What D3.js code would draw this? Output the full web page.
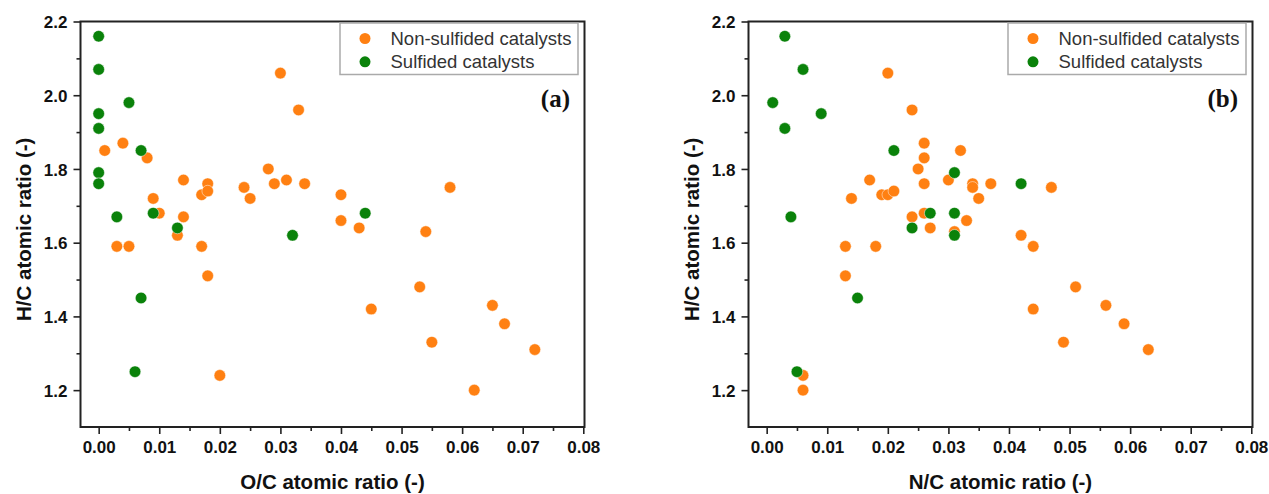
<!DOCTYPE html>
<html>
<head>
<meta charset="utf-8">
<script src="https://cdn.jsdelivr.net/npm/d3@7"></script>
<style>
  body { margin: 0; background: #fff; }
  svg text { font-family: "Liberation Sans", Arial, sans-serif; }
</style>
</head>
<body>
<svg id="fig" width="1269" height="494"></svg>
<script>
// (a) H/C vs O/C
var ocNonSulfided = [0.001, 0.004, 0.008, 0.009, 0.010, 0.014, 0.014, 0.017, 0.018, 0.018,
	0.024, 0.025, 0.028, 0.029, 0.031, 0.034, 0.030, 0.033, 0.040, 0.040,
	0.043, 0.013, 0.003, 0.005, 0.017, 0.018, 0.020, 0.058, 0.054, 0.053,
	0.045, 0.065, 0.067, 0.055, 0.072, 0.062];
var hcNonSulfidedA = [1.85, 1.87, 1.83, 1.72, 1.68, 1.77, 1.67, 1.73, 1.76, 1.74,
	1.75, 1.72, 1.80, 1.76, 1.77, 1.76, 2.06, 1.96, 1.73, 1.66,
	1.64, 1.62, 1.59, 1.59, 1.59, 1.51, 1.24, 1.75, 1.63, 1.48,
	1.42, 1.43, 1.38, 1.33, 1.31, 1.20];
var ocSulfided = [0, 0, 0, 0, 0, 0, 0.005, 0.007, 0.003, 0.009, 0.013, 0.032, 0.007, 0.006, 0.044];
var hcSulfidedA = [2.16, 2.07, 1.95, 1.91, 1.79, 1.76, 1.98, 1.85, 1.67, 1.68, 1.64, 1.62, 1.45, 1.25, 1.68];

// (b) H/C vs N/C
var ncNonSulfided = [0.020, 0.024, 0.026, 0.026, 0.032, 0.025, 0.017, 0.026, 0.030, 0.034,
	0.034, 0.037, 0.035, 0.014, 0.019, 0.020, 0.021, 0.024, 0.026, 0.027,
	0.033, 0.031, 0.013, 0.018, 0.013, 0.006, 0.006, 0.047, 0.042, 0.044,
	0.051, 0.044, 0.056, 0.059, 0.049, 0.063];
var hcNonSulfidedB = [2.06, 1.96, 1.87, 1.83, 1.85, 1.80, 1.77, 1.76, 1.77, 1.76,
	1.75, 1.76, 1.72, 1.72, 1.73, 1.73, 1.74, 1.67, 1.68, 1.64,
	1.66, 1.63, 1.59, 1.59, 1.51, 1.24, 1.20, 1.75, 1.62, 1.59,
	1.48, 1.42, 1.43, 1.38, 1.33, 1.31];
var ncSulfided = [0.003, 0.006, 0.001, 0.003, 0.009, 0.021, 0.031, 0.004, 0.027, 0.031, 0.024, 0.031, 0.015, 0.005, 0.042];
var hcSulfidedB = [2.16, 2.07, 1.98, 1.91, 1.95, 1.85, 1.79, 1.67, 1.68, 1.68, 1.64, 1.62, 1.45, 1.25, 1.76];

var xTicks = [0, 0.01, 0.02, 0.03, 0.04, 0.05, 0.06, 0.07, 0.08];
var xMinorTicks = [0.005, 0.015, 0.025, 0.035, 0.045, 0.055, 0.065, 0.075];
var yTicks = [1.2, 1.4, 1.6, 1.8, 2.0, 2.2];
var yMinorTicks = [1.3, 1.5, 1.7, 1.9, 2.1];
var legendLabels = ["Non-sulfided catalysts", "Sulfided catalysts"];

var ORANGE = "#ff8012";
var GREEN = "#0a820a";

var svg = d3.select("#fig");

function pairs(x, y) {
	return x.map(function(v, i) { return [v, y[i]]; });
}

function drawPanel(left, xLabel, tag, nonSulf, sulf) {
	/* Draws one framed scatter panel; left is the x of the frame's left edge. */
	var w = 504, top = 21.5, bottom = 427;
	var g = svg.append("g");
	var xScale = d3.scaleLinear().domain([-0.003, 0.0802]).range([left, left + w]);
	var yScale = d3.scaleLinear().domain([1.1, 2.2]).range([bottom, top]);

	// minor ticks first, then major ticks with labels
	g.append("g")
		.attr("transform", "translate(0," + bottom + ")")
		.call(d3.axisBottom(xScale).tickValues(xMinorTicks).tickSize(4).tickFormat(""));
	g.append("g")
		.attr("transform", "translate(" + left + ",0)")
		.call(d3.axisLeft(yScale).tickValues(yMinorTicks).tickSize(4).tickFormat(""));
	var xAxis = g.append("g")
		.attr("transform", "translate(0," + bottom + ")")
		.call(d3.axisBottom(xScale).tickValues(xTicks).tickSize(7).tickPadding(7).tickFormat(d3.format(".2f")));
	var yAxis = g.append("g")
		.attr("transform", "translate(" + left + ",0)")
		.call(d3.axisLeft(yScale).tickValues(yTicks).tickSize(7).tickPadding(6).tickFormat(d3.format(".1f")));
	g.selectAll(".domain").remove();
	g.selectAll(".tick line").attr("stroke", "#222").attr("stroke-width", 1.6);
	[xAxis, yAxis].forEach(function(a) {
		a.selectAll("text")
			.attr("fill", "#111")
			.style("font-size", "17px")
			.style("font-weight", "bold")
			.style("font-family", "'Liberation Sans', Arial, sans-serif");
	});
	yAxis.selectAll("text").attr("dy", "0.36em");

	// frame
	g.append("rect")
		.attr("x", left)
		.attr("y", top)
		.attr("width", w)
		.attr("height", bottom - top)
		.attr("fill", "none")
		.attr("stroke", "#222")
		.attr("stroke-width", 2);

	// axis titles
	g.append("text")
		.text(xLabel)
		.attr("x", left + w / 2)
		.attr("y", 489)
		.attr("text-anchor", "middle")
		.style("font-size", "20.5px")
		.style("font-weight", "bold")
		.attr("fill", "#111");
	g.append("text")
		.text("H/C atomic ratio (-)")
		.attr("transform", "translate(" + (left - 57) + "," + ((top + bottom) / 2 + 5) + ") rotate(-90)")
		.attr("text-anchor", "middle")
		.attr("dy", "0.35em")
		.style("font-size", "20.5px")
		.style("font-weight", "bold")
		.attr("fill", "#111");

	// points
	var series = [[nonSulf, ORANGE], [sulf, GREEN]];
	series.forEach(function(s) {
		g.append("g").selectAll("circle")
			.data(s[0])
			.enter()
				.append("circle")
				.attr("cx", function(d) { return xScale(d[0]); })
				.attr("cy", function(d) { return yScale(d[1]); })
				.attr("r", 5.8)
				.attr("fill", s[1])
				.attr("stroke", "#fff")
				.attr("stroke-opacity", 0.6)
				.attr("stroke-width", 0.8);
	});

	// legend
	var lx = left + w - 244.5;
	g.append("rect")
		.attr("x", lx)
		.attr("y", 23)
		.attr("width", 238)
		.attr("height", 51.5)
		.attr("fill", "#fff")
		.attr("stroke", "#aaa")
		.attr("stroke-width", 1.5);
	legendLabels.forEach(function(label, i) {
		var cy = 38.5 + i * 23.3;
		g.append("circle")
			.attr("cx", lx + 25)
			.attr("cy", cy)
			.attr("r", 5.5)
			.attr("fill", i === 0 ? ORANGE : GREEN);
		g.append("text")
			.text(label)
			.attr("x", lx + 50.5)
			.attr("y", cy)
			.attr("dy", "0.35em")
			.style("font-size", "18.5px")
			.attr("fill", "#333");
	});

	// panel tag
	g.append("text")
		.text(tag)
		.attr("x", left + w - 14.5)
		.attr("y", 107)
		.attr("text-anchor", "end")
		.style("font-family", "'Liberation Serif', 'Times New Roman', serif")
		.style("font-weight", "bold")
		.style("font-size", "25px")
		.attr("fill", "#111");
}

drawPanel(80.5, "O/C atomic ratio (-)", "(a)",
	pairs(ocNonSulfided, hcNonSulfidedA), pairs(ocSulfided, hcSulfidedA));
drawPanel(748.5, "N/C atomic ratio (-)", "(b)",
	pairs(ncNonSulfided, hcNonSulfidedB), pairs(ncSulfided, hcSulfidedB));
</script>
</body>
</html>
